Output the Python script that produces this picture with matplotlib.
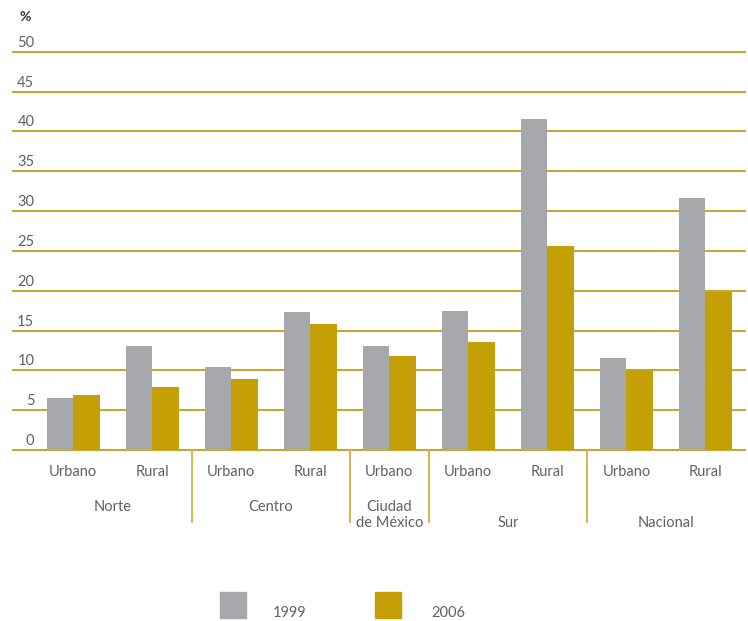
import matplotlib
matplotlib.use("Agg")
import matplotlib.pyplot as plt
from matplotlib.patches import Rectangle
import numpy as np

plt.rcParams['font.family'] = ['Lato', 'DejaVu Sans']

# ---- data ----
sub_labels = ["Urbano", "Rural", "Urbano", "Rural", "Urbano", "Urbano", "Rural", "Urbano", "Rural"]
groups = ["Norte", "Centro", "Ciudad\nde México", "Sur", "Nacional"]
group_members = [[0, 1], [2, 3], [4], [5, 6], [7, 8]]
group_label_row = [0, 0, 0, 1, 1]  # 0 = upper line, 1 = lower line
v1999 = [6.5, 13.0, 10.4, 17.3, 13.0, 17.4, 41.5, 11.5, 31.6]
v2006 = [6.9, 7.9, 8.9, 15.8, 11.8, 13.5, 25.6, 10.0, 19.8]
yticks = [0, 5, 10, 15, 20, 25, 30, 35, 40, 45, 50]
series_labels = ["1999", "2006"]

GRAY = "#A7A8AB"
GOLD = "#C49F05"
GRID = "#C9A425"
SEP = "#D2B84E"
TXT = "#616161"
FW = "normal"

W, H = 748, 621
fig = plt.figure(figsize=(W / 100, H / 100), dpi=100)
ax = fig.add_axes([13 / W, (H - 450) / H, (745 - 13) / W, (450 - 51.7) / H])
ax.set_xlim(-0.76, 8.5)
ax.set_ylim(0, 50)
ax.axis("off")

x = np.arange(len(sub_labels))
bw = 0.335
ax.bar(x - bw / 2, v1999, width=bw, color=GRAY, zorder=3)
ax.bar(x + bw / 2, v2006, width=bw, color=GOLD, zorder=3)

for t in yticks:
    ax.axhline(t, color=GRID, lw=1.4, zorder=1, clip_on=False)
    ax.text(-0.49, t + 0.25, str(t), ha="right", va="bottom", fontsize=10.5,
            color=TXT, fontweight=FW, clip_on=False)

ax.text(-0.6, 53.6, "%", ha="center", va="bottom", fontsize=10, fontweight="bold",
        color="#333333", clip_on=False)

ppu = 398.3 / 50  # pixels per unit
def py(p):
    return (450 - p) / ppu

# sub labels
for xi, lab in zip(x, sub_labels):
    ax.text(xi, py(472), lab, ha="center", va="center", fontsize=10.5, color=TXT,
            fontweight=FW, clip_on=False)

# separators between groups
for gi in range(len(groups) - 1):
    xs = (group_members[gi][-1] + group_members[gi + 1][0]) / 2
    ax.plot([xs, xs], [0, py(522)], color=SEP, lw=1.4, clip_on=False, zorder=2)

# group labels
for g, mem, row in zip(groups, group_members, group_label_row):
    cx = np.mean(mem)
    if "\n" in g:
        l1, l2 = g.split("\n")
        ax.text(cx, py(507), l1, ha="center", va="center", fontsize=10.5, color=TXT,
                fontweight=FW, clip_on=False)
        ax.text(cx, py(523), l2, ha="center", va="center", fontsize=10.5, color=TXT,
                fontweight=FW, clip_on=False)
    else:
        yy = py(507) if row == 0 else py(523)
        ax.text(cx, yy, g, ha="center", va="center", fontsize=10.5, color=TXT,
                fontweight=FW, clip_on=False)

# legend
for (sx, tx), lab, col in zip([(220, 273), (375, 431)], series_labels, [GRAY, GOLD]):
    fig.patches.append(Rectangle((sx / W, (H - 618) / H), 26 / W, 26 / H,
                                 transform=fig.transFigure, color=col, zorder=5))
    fig.text(tx / W, (H - 613) / H, lab, ha="left", va="center", fontsize=10.5,
             color=TXT, fontweight=FW)

fig.savefig("out.png", dpi=100, facecolor="white")
